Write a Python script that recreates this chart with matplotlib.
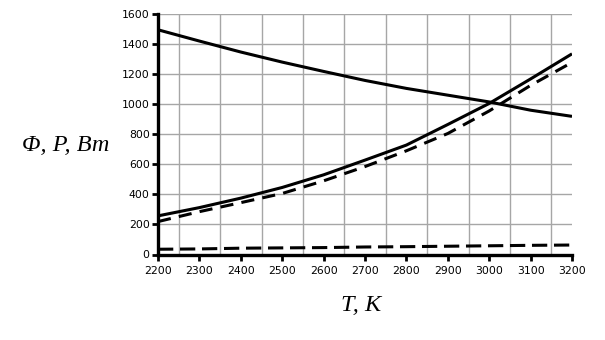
import matplotlib
matplotlib.use("Agg")
import matplotlib.pyplot as plt

# Temperature grid, K
T = [2200, 2300, 2400, 2500, 2600, 2700, 2800, 2900, 3000, 3100, 3200]
# Decreasing solid curve
phi_falling = [1495, 1420, 1347, 1280, 1218, 1158, 1105, 1060, 1015, 960, 919]
# Increasing solid curve
p_solid = [257, 312, 375, 446, 530, 628, 728, 865, 1005, 1168, 1335]
# Increasing dashed curve
p_dashed = [219, 285, 345, 406, 490, 585, 690, 805, 955, 1125, 1278]
# Low dashed curve
p_low = [35, 37, 42, 44, 46, 50, 52, 55, 58, 61, 63]

x_ticks = list(range(2200, 3201, 100))
y_ticks = list(range(0, 1601, 200))

fig = plt.figure(figsize=(6.05, 3.4), dpi=100)
ax = fig.add_axes([158 / 605, 1 - 254.5 / 340, (572 - 158) / 605, (254.5 - 14) / 340])

lw = 2.2
ax.plot(T, phi_falling, color="black", lw=lw, solid_capstyle="butt", zorder=3)
ax.plot(T, p_solid, color="black", lw=lw, solid_capstyle="butt", zorder=3)
ax.plot(T, p_dashed, color="black", lw=lw, dashes=(4.3, 2.7), zorder=3)
ax.plot(T, p_low, color="black", lw=lw, dashes=(5, 2.2), zorder=3)

ax.set_xlim(2200, 3200)
ax.set_ylim(0, 1600)
ax.set_xticks(x_ticks)
ax.set_yticks(y_ticks)
ax.set_xticks([t + 50 for t in x_ticks[:-1]], minor=True)

# Vertical grid sits between labelled ticks, horizontal grid on every label
ax.grid(False)
ax.xaxis.grid(True, which="minor", color="#a6a6a6", lw=1.0)
ax.yaxis.grid(True, which="major", color="#a6a6a6", lw=1.0)
ax.set_axisbelow(True)

for side in ("top", "right"):
    ax.spines[side].set_visible(False)
for side in ("left", "bottom"):
    ax.spines[side].set_linewidth(2.4)
    ax.spines[side].set_color("black")

ax.tick_params(axis="both", which="major", direction="out", length=4, width=2.0,
               labelsize=7.8, color="black")
ax.tick_params(axis="x", which="major", pad=4)
ax.tick_params(axis="y", which="major", pad=2)
ax.tick_params(axis="x", which="minor", length=0)

ax.text(-0.222, 0.455, "Φ, P, Вт", transform=ax.transAxes, fontsize=17.5,
        family="Liberation Serif", style="italic", ha="center", va="center")
ax.text(0.49, -0.21, "T, K", transform=ax.transAxes, fontsize=17.5,
        family="Liberation Serif", style="italic", ha="center", va="center")

fig.savefig("out.png", dpi=100)
